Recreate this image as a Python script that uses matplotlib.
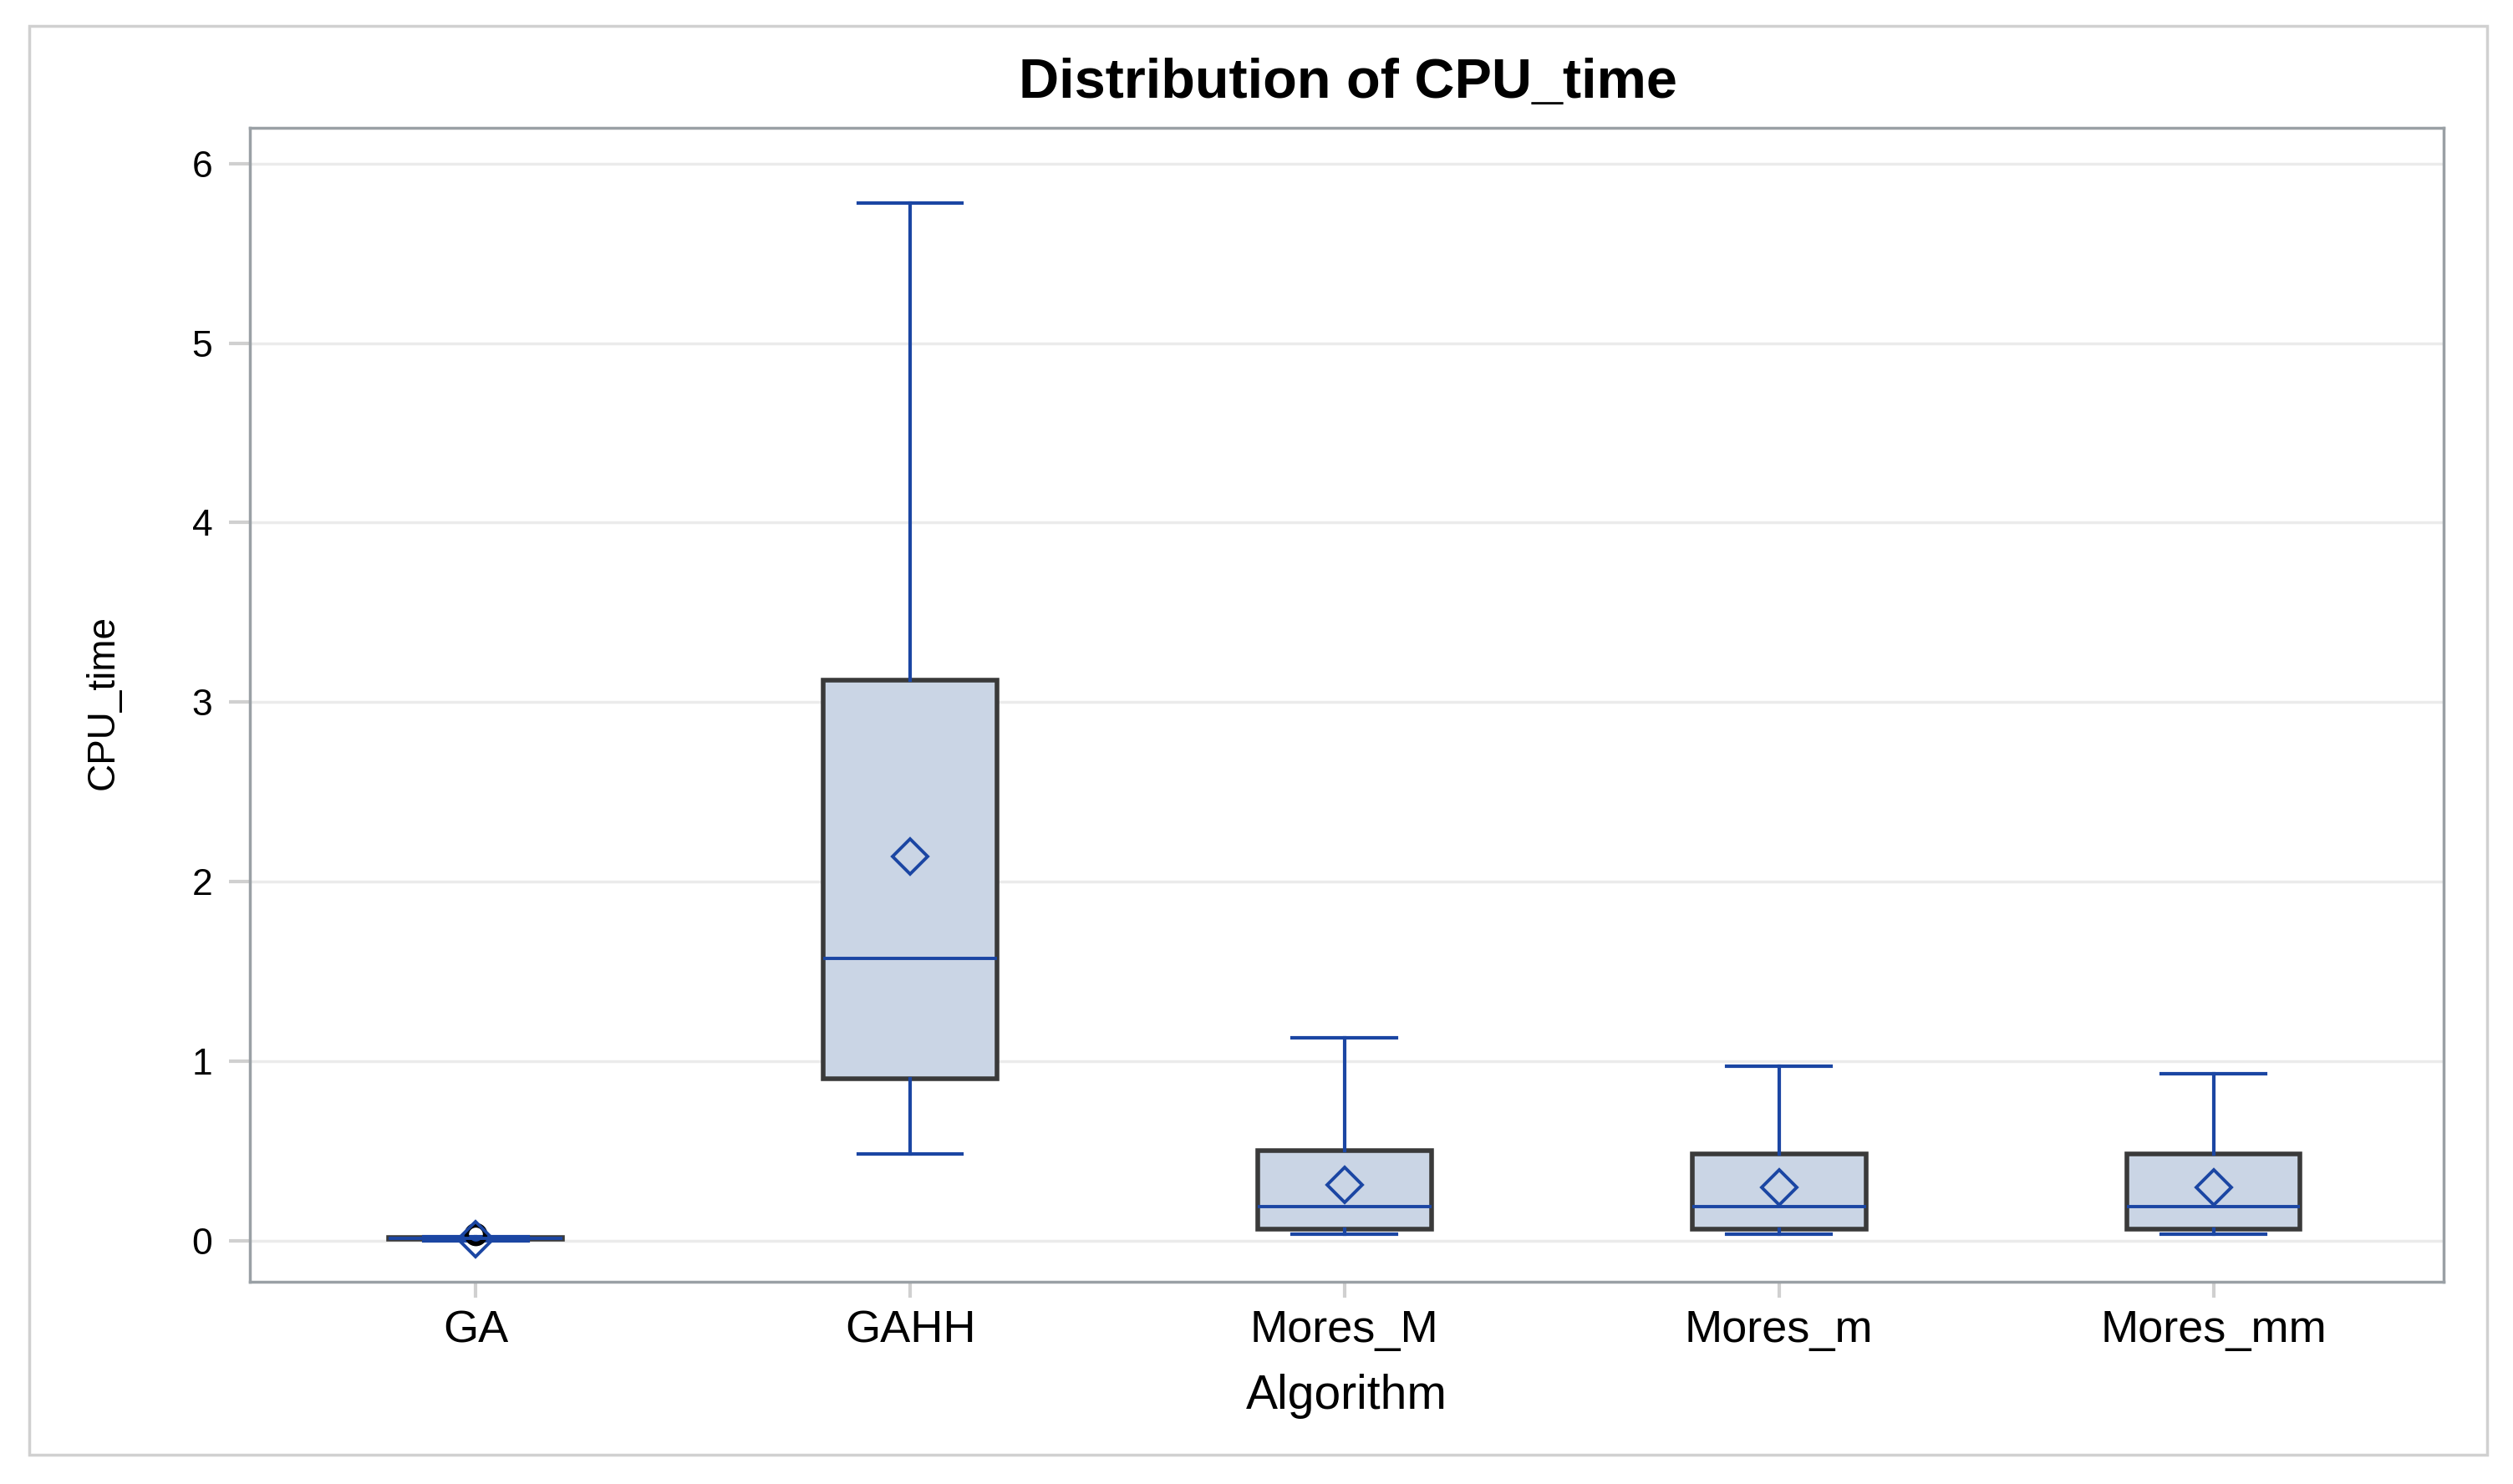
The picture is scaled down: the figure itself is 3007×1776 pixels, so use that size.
import matplotlib.pyplot as plt
from matplotlib.patches import Rectangle

plt.rcParams['font.family'] = ['Liberation Sans', 'DejaVu Sans']

# ─── Données ───
algos    = ['GA', 'GAHH', 'Mores_M', 'Mores_m', 'Mores_mm']
whislo   = [0.000, 0.48, 0.035, 0.035, 0.035]
q1       = [0.005, 0.90, 0.065, 0.065, 0.065]
medians  = [0.010, 1.57, 0.19, 0.19, 0.19]
q3       = [0.015, 3.12, 0.50, 0.48, 0.48]
whishi   = [0.020, 5.78, 1.13, 0.97, 0.93]
means    = [0.005, 2.14, 0.31, 0.295, 0.295]
outliers = [[0.035], [], [], [], []]

BLUE = '#1b46a3'
FILL = '#cad5e5'
EDGE = '#3a3a3a'

stats = []
for i, name in enumerate(algos):
    stats.append(dict(label=name, whislo=whislo[i], q1=q1[i], med=medians[i],
                      q3=q3[i], whishi=whishi[i], mean=means[i], fliers=outliers[i]))

fig = plt.figure(figsize=(30.07, 17.76), dpi=100)
fig.patches.append(Rectangle((0.0116, 0.0197), 0.9781, 0.9628, transform=fig.transFigure,
                             fill=False, edgecolor='#d0d0d0', linewidth=2.5))

ax = fig.add_axes([0.0994, 0.1363, 0.8730, 0.7776])

ax.bxp(stats, positions=range(len(algos)), widths=0.40, capwidths=0.24,
       showmeans=True, meanline=False, patch_artist=True,
       boxprops=dict(facecolor=FILL, edgecolor=EDGE, linewidth=4.0),
       medianprops=dict(color=BLUE, linewidth=2.8),
       whiskerprops=dict(color=BLUE, linewidth=3.0),
       capprops=dict(color=BLUE, linewidth=3.0),
       meanprops=dict(marker='D', markerfacecolor='none', markeredgecolor=BLUE,
                      markersize=21, markeredgewidth=2.8),
       flierprops=dict(marker='o', markerfacecolor='none', markeredgecolor='black',
                       markersize=16, markeredgewidth=4),
       zorder=3)

ax.set_xlim(-0.52, 4.53)
ax.set_ylim(-0.23, 6.2)
ax.set_yticks(range(0, 7))
ax.yaxis.grid(True, color='#ebebeb', linewidth=2.5)
ax.set_axisbelow(True)

for s in ax.spines.values():
    s.set_color('#9aa0a5')
    s.set_linewidth(2.5)

ax.tick_params(axis='y', length=18, width=3, color='#d0d0d0', pad=14, labelsize=32)
ax.tick_params(axis='x', length=14, width=3, color='#d0d0d0', pad=10, labelsize=39)

ax.set_xlabel('Algorithm', fontsize=41, labelpad=19)
fig.text(0.041, 0.527, 'CPU_time', rotation=90, fontsize=33, ha='center', va='center')
fig.text(0.5365, 0.9437, 'Distribution of CPU_time', fontsize=48, fontweight='bold',
         ha='center', va='center')

plt.savefig('out.png', dpi=100)
